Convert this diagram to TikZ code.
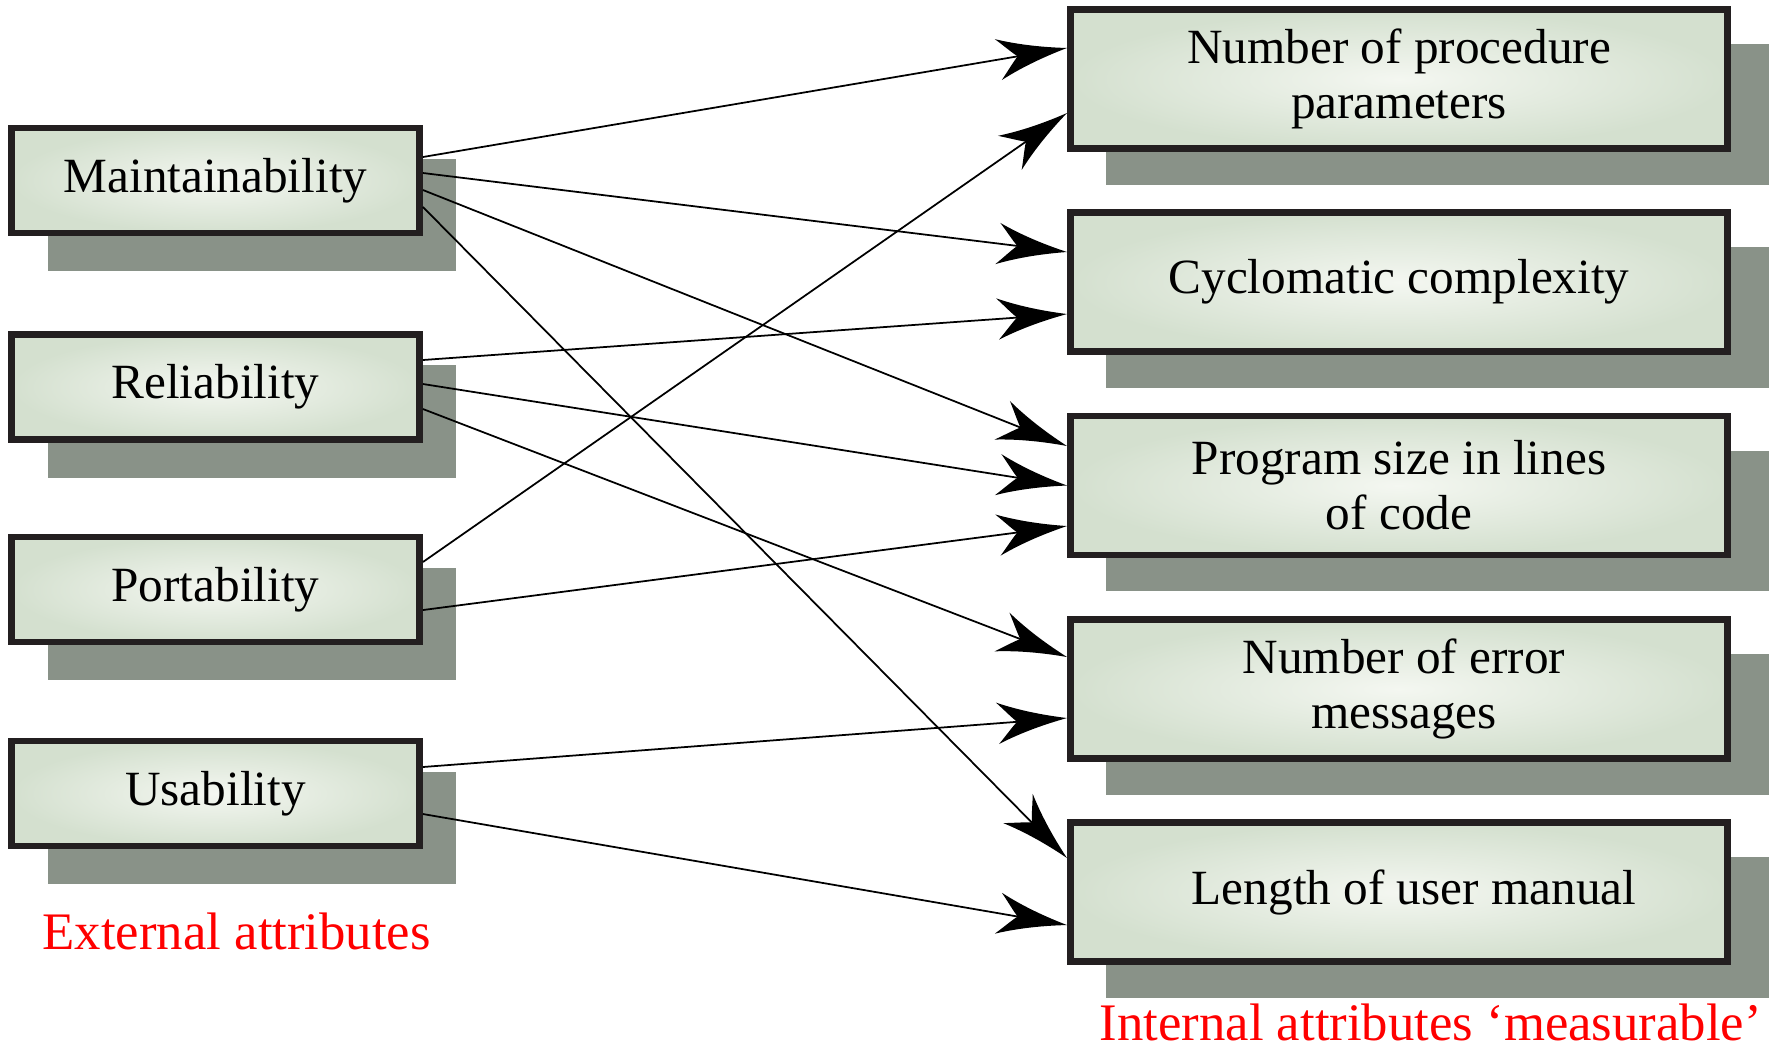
\documentclass[tikz,border=0pt]{standalone}
\usepackage{fontspec}
\setmainfont{Liberation Serif}
\usetikzlibrary{arrows.meta,backgrounds}

% Barbed arrow head with concave flanks
\pgfdeclarearrow{
  name = Barb,
  setup code = {
    \pgfarrowssettipend{0pt}
    \pgfarrowssetbackend{-19.8pt}
    \pgfarrowssetlineend{-13pt}
    \pgfarrowshullpoint{0pt}{0pt}
    \pgfarrowshullpoint{-19.8pt}{5.9pt}
    \pgfarrowshullpoint{-19.8pt}{-5.9pt}
  },
  drawing code = {
    \pgfpathmoveto{\pgfpointorigin}
    \pgfpathcurveto{\pgfpoint{-6pt}{1.2pt}}{\pgfpoint{-13pt}{3pt}}{\pgfpoint{-19.8pt}{5.9pt}}
    \pgfpathcurveto{\pgfpoint{-17.4pt}{3.4pt}}{\pgfpoint{-15.6pt}{1.2pt}}{\pgfpoint{-14.2pt}{0pt}}
    \pgfpathcurveto{\pgfpoint{-15.6pt}{-1.2pt}}{\pgfpoint{-17.4pt}{-3.4pt}}{\pgfpoint{-19.8pt}{-5.9pt}}
    \pgfpathcurveto{\pgfpoint{-13pt}{-3pt}}{\pgfpoint{-6pt}{-1.2pt}}{\pgfpointorigin}
    \pgfpathclose
    \pgfusepathqfill
  }
}

\definecolor{boxline}{HTML}{231F20}
\definecolor{boxin}{HTML}{F4F7F1}
\definecolor{boxout}{HTML}{D4E0CF}
\definecolor{shade}{HTML}{899288}
\definecolor{capred}{HTML}{FF0000}

\tikzset{
  attr/.style={draw=boxline, line width=1.9pt, inner color=boxin, outer color=boxout,
    inner sep=0pt, align=center, font=\fontsize{14}{15.6}\selectfont},
  ext/.style={attr, minimum width=4.08cm, minimum height=1.05cm},
  intl/.style={attr, minimum width=6.57cm, minimum height=1.39cm},
  shadowbox/.style={fill=shade, draw=none},
  link/.style={line width=0.5pt, draw=black, -{Barb}},
  caption/.style={text=capred, inner sep=0pt, font=\fontsize{15}{17}\selectfont}
}

\begin{document}
\begin{tikzpicture}[x=0.01cm, y=-0.01cm]
  \useasboundingbox (0,0) rectangle (1778,1047);

  % external attributes
  \node[ext] (m) at (215.5,180.5) {Maintainability};
  \node[ext] (r) at (215.5,387) {Reliability};
  \node[ext] (p) at (215.5,589.5) {Portability};
  \node[ext] (u) at (215.5,793.5) {Usability};

  % internal attributes
  \node[intl] (b1) at (1399,79) {Number of procedure\\parameters};
  \node[intl] (b2) at (1399,282) {Cyclomatic complexity};
  \node[intl] (b3) at (1399,485.5) {Program size in lines\\of code};
  \node[intl] (b4) at (1399,689) {\hspace*{0.1cm}Number of error\\\hspace*{0.1cm}messages};
  \node[intl] (b5) at (1399,892) {\hspace*{0.3cm}Length of user manual};

  % captions
  \node[caption, anchor=base west] (extcap) at (42,949) {External attributes};
  \node[caption, anchor=base west] (intcap) at (1099,1040) {Internal attributes ‘measurable’};

  % relations
  \draw[link] ([yshift=0.235cm]m.east) -- ([yshift=0.31cm]b1.west);
  \draw[link] ([yshift=0.075cm]m.east) -- ([yshift=0.30cm]b2.west);
  \draw[link] ([yshift=-0.095cm]m.east) -- ([yshift=0.395cm]b3.west);
  \draw[link] ([yshift=-0.265cm]m.east) -- ([yshift=0.34cm]b5.west);
  \draw[link] ([yshift=0.27cm]r.east) -- ([yshift=-0.32cm]b2.west);
  \draw[link] ([yshift=0.03cm]r.east) -- ([yshift=0cm]b3.west);
  \draw[link] ([yshift=-0.22cm]r.east) -- ([yshift=0.32cm]b4.west);
  \draw[link] ([yshift=0.275cm]p.east) -- ([yshift=-0.34cm]b1.west);
  \draw[link] ([yshift=-0.205cm]p.east) -- ([yshift=-0.405cm]b3.west);
  \draw[link] ([yshift=0.265cm]u.east) -- ([yshift=-0.29cm]b4.west);
  \draw[link] ([yshift=-0.205cm]u.east) -- ([yshift=-0.33cm]b5.west);

  % drop shadows behind the boxes
  \begin{scope}[on background layer]
    \fill[white] (0,0) rectangle (1778,1047);
    \foreach \n in {m,r,p,u}
      \fill[shadowbox] ([xshift=0.40cm,yshift=-0.34cm]\n.north west) rectangle ([xshift=0.33cm,yshift=-0.35cm]\n.south east);
    \foreach \n in {b1,b2,b3,b4,b5}
      \fill[shadowbox] ([xshift=0.39cm,yshift=-0.38cm]\n.north west) rectangle ([xshift=0.38cm,yshift=-0.33cm]\n.south east);
  \end{scope}
\end{tikzpicture}
\end{document}
